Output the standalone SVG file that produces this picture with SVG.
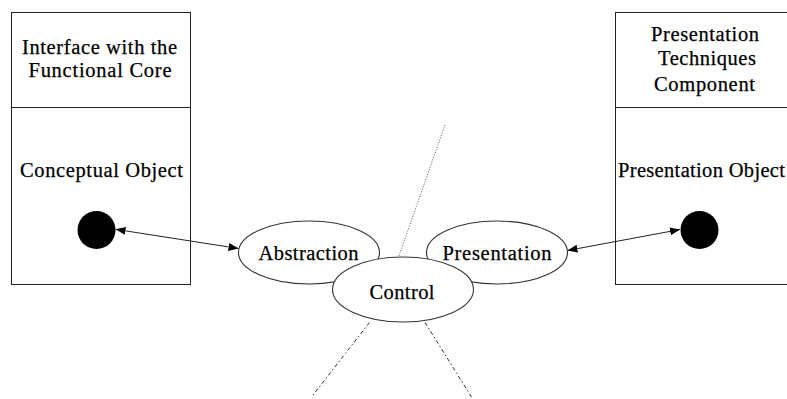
<svg xmlns="http://www.w3.org/2000/svg" width="787" height="399" viewBox="0 0 787 399">
  <style>
    .box { fill: #fff; stroke: #222; stroke-width: 1; }
    .oval { fill: #fff; stroke: #333; stroke-width: 1.1; }
    .lbl { font-size: 20.5px; fill: #000; stroke: #000; stroke-width: 0.25; text-anchor: middle; }
    .dot { fill: #000; }
    .link { stroke: #222; stroke-width: 1; fill: none; marker-start: url(#arrow); marker-end: url(#arrow); }
    .dotted { stroke: #555; stroke-width: 1; stroke-dasharray: 1 1.6; fill: none; }
    .dashdot { stroke: #333; stroke-width: 1; stroke-dasharray: 4 2.5 1.5 2.5; fill: none; }
  </style>
  <defs>
    <marker id="arrow" viewBox="0 0 10 8" refX="10" refY="4" markerWidth="10" markerHeight="8" markerUnits="userSpaceOnUse" orient="auto-start-reverse">
      <path d="M0,0 L10,4 L0,8 z" fill="#000"/>
    </marker>
  </defs>
  <rect width="787" height="399" fill="#fff"/>

  <g font-family="Liberation Serif">
  <!-- left component -->
  <g id="functional-core">
    <rect class="box" x="11.5" y="12.5" width="179" height="272"/>
    <line x1="11.5" y1="107.5" x2="190.5" y2="107.5" stroke="#222"/>
    <text class="lbl" x="99.5" y="53.5" textLength="155" lengthAdjust="spacing">Interface with the</text>
    <text class="lbl" x="100" y="77" textLength="143" lengthAdjust="spacing">Functional Core</text>
    <text class="lbl" x="101.5" y="177" textLength="163" lengthAdjust="spacing">Conceptual Object</text>
    <circle id="conceptual-object" class="dot" cx="96.5" cy="230" r="19"/>
  </g>

  <!-- right component -->
  <g id="presentation-techniques">
    <rect class="box" x="615.5" y="12.5" width="180" height="272"/>
    <line x1="615.5" y1="107.5" x2="790" y2="107.5" stroke="#222"/>
    <text class="lbl" x="705" y="40.5" textLength="108" lengthAdjust="spacing">Presentation</text>
    <text class="lbl" x="707" y="65" textLength="98" lengthAdjust="spacing">Techniques</text>
    <text class="lbl" x="704.5" y="90.5" textLength="101" lengthAdjust="spacing">Component</text>
    <text class="lbl" x="618" y="177" style="text-anchor:start" textLength="167" lengthAdjust="spacing">Presentation Object</text>
    <circle id="presentation-object" class="dot" cx="699.5" cy="230" r="19"/>
  </g>

  <!-- connectors -->
  <g id="connectors">
    <line class="link" x1="115.5" y1="229.3" x2="238.5" y2="248.5"/>
    <line class="link" x1="567.5" y1="250.5" x2="680" y2="229.5"/>
    <line class="dotted" x1="445" y1="125" x2="398.5" y2="257"/>
    <line class="dashdot" x1="369.5" y1="322.5" x2="311.5" y2="397"/>
    <line class="dashdot" x1="425" y1="322.5" x2="471.5" y2="397"/>
  </g>

  <!-- PAC agent -->
  <g id="abstraction">
    <ellipse class="oval" cx="309" cy="252.5" rx="70.5" ry="31.5"/>
    <text class="lbl" x="308.5" y="260" textLength="100" lengthAdjust="spacing">Abstraction</text>
  </g>
  <g id="presentation">
    <ellipse class="oval" cx="497" cy="252.5" rx="70.5" ry="31.5"/>
    <text class="lbl" x="497" y="260" textLength="109" lengthAdjust="spacing">Presentation</text>
  </g>
  <g id="control">
    <ellipse class="oval" cx="403" cy="289.5" rx="70.5" ry="32.5"/>
    <text class="lbl" x="402" y="298.5" textLength="65" lengthAdjust="spacing">Control</text>
  </g>
  </g>
</svg>
